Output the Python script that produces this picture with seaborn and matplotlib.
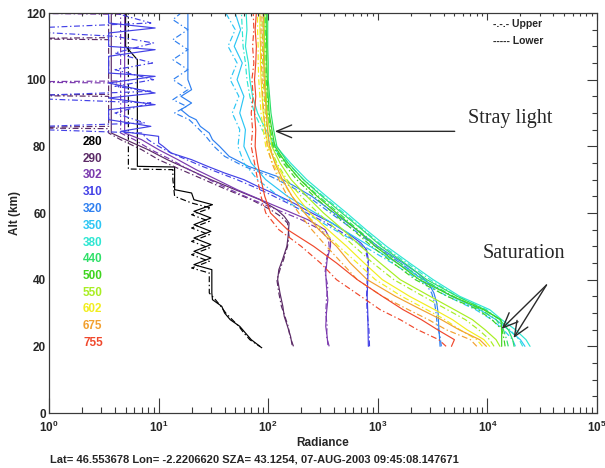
import numpy as np
import matplotlib
matplotlib.use("Agg")
import matplotlib.pyplot as plt
import seaborn as sns
from matplotlib.ticker import LogLocator, MultipleLocator, NullFormatter

sns.set_style("white")
plt.rcParams["font.family"] = ["Liberation Sans", "DejaVu Sans"]
plt.rcParams["mathtext.fontset"] = "custom"
plt.rcParams["mathtext.rm"] = "Liberation Sans:bold"
plt.rcParams["mathtext.bf"] = "Liberation Sans:bold"

# ---------------------------------------------------------------- data
WAVELENGTHS = ["280", "290", "302", "310", "320", "350", "380",
               "440", "500", "550", "602", "675", "755"]
COLORS = ["#000000", "#5b2a66", "#7b3aae", "#4341e6", "#2f80f0", "#2cc6f4",
          "#2ee6d2", "#2ee068", "#3ed41e", "#a8ee22", "#f2ee1e", "#f2a030",
          "#f0482c"]

# UV channels: altitude (km) and radiance, lower (solid) and upper (dash-dot)
ALT_280_LO = [20, 22, 24, 26, 28, 30, 32, 34, 36, 40, 43, 44.5, 46.5, 48.5, 50.5,
              52.5, 54.5, 56.5, 58.5, 60.5, 62.5, 64, 66, 67, 70, 73.8, 74, 80,
              90, 100, 106, 110, 120]
RAD_280_LO = [84, 70, 62, 55, 45, 40, 37.7, 31, 30.6, 30.6, 30.6, 21, 30, 21, 30,
              21, 30, 21, 30, 21, 31, 21, 20, 14, 14, 14, 6.4, 6.4,
              6.4, 6.4, 6.4, 5, 5]
ALT_280_HI = [19.5, 22, 24, 26, 28, 30, 32, 34, 36, 40, 42, 43.5, 45.5, 47.5, 49.5,
              51.5, 53.5, 55.5, 57.5, 59.5, 61.5, 63, 65, 70, 73, 73.2, 80, 90,
              100, 110, 120]
RAD_280_HI = [88, 68, 60, 54, 47, 41, 37, 33, 29, 29, 29, 20, 29, 20, 29,
              20, 29, 20, 29, 20, 30, 20, 14, 13.5, 13.5, 5.3, 5.3, 5.3,
              5.3, 5.3, 5.3]

ALT_290_LO = [20.5, 23, 26, 29, 32, 36, 40, 43, 46, 50, 53, 57, 59, 61, 64, 67,
              70, 73, 76, 79, 82, 84, 90, 100, 110, 120]
RAD_290_LO = [165, 160, 150, 140, 136, 128, 122, 125, 135, 148, 152, 155, 140,
              120, 84, 50, 30, 19, 12, 8, 5, 3.7, 3.7, 3.7, 3.7, 3.7]
ALT_290_HI = [20, 23, 26, 29, 32, 36, 40, 43, 46, 50, 53, 57, 59, 61, 64, 67, 70,
              73, 76, 79, 82, 84, 85.3, 85.6, 86, 95, 95.3, 95.6, 112, 112.3,
              112.6, 120]
RAD_290_HI = [170, 158, 152, 142, 132, 125, 120, 128, 138, 150, 155, 150, 130,
              105, 70, 42, 26, 16, 10, 7, 4.5, 3.5, 3.5, 0.3, 3.5, 3.5, 0.3, 3.5,
              3.5, 0.3, 3.5, 3.5]

ALT_302_LO = [20.5, 23, 26, 30, 34, 38, 42, 46, 50, 52, 55, 58, 61, 64, 67, 70,
              73, 76, 79, 82, 84, 90, 100, 110, 120]
RAD_302_LO = [350, 345, 335, 340, 350, 340, 335, 345, 370, 370, 330, 230, 140,
              85, 52, 34, 22, 15, 10, 7, 4.9, 4.9, 4.9, 4.9, 4.9]
ALT_302_HI = [20, 23, 26, 30, 34, 38, 42, 46, 50, 52, 55, 58, 61, 64, 67, 70, 73,
              76, 79, 82, 84, 99, 99.3, 99.6, 119.6, 120]
RAD_302_HI = [360, 340, 345, 335, 340, 350, 330, 340, 360, 355, 300, 200, 120,
              72, 45, 29, 19, 13, 8.5, 6, 4.5, 4.5, 0.3, 4.5, 4.5, 0.3]

ALT_310_LO = [20, 25, 30, 35, 40, 46, 49, 51, 54, 57, 60, 63, 66, 68, 70, 72, 74,
              76, 78, 80, 81, 83, 84.5, 86, 88, 91, 92.5, 94.5, 96, 99, 101, 102,
              107, 109, 110, 114, 115.5, 117, 120]
RAD_310_LO = [820, 815, 810, 800, 810, 820, 790, 700, 530, 380, 250, 170, 110,
              80, 60, 40, 28, 20, 13, 11, 10, 10, 4.5, 8.5, 3.5, 3.5, 9.3, 3.5,
              9.3, 3.5, 9.3, 3.5, 3.5, 9.3, 3.5, 3.5, 9.3, 3.5, 3.5]
ALT_310_HI = [20, 25, 30, 35, 40, 46, 49, 51, 54, 57, 60, 63, 66, 68, 70, 72, 74,
              76, 78, 80, 82, 84, 85.5, 87, 90, 93, 94.8, 96.5, 98, 100, 103, 105,
              108, 111, 113, 115, 117, 120]
RAD_310_HI = [840, 830, 800, 790, 800, 810, 770, 660, 480, 340, 225, 150, 98, 72,
              52, 36, 25, 18, 13, 10, 8, 7, 0.3, 7.5, 4, 8.5, 0.3, 8.5, 4, 9, 4,
              8.8, 4, 9, 4, 0.3, 8.5, 4]

ALT_320_LO = [20, 23, 26, 30, 33, 36, 39, 42, 45, 50, 55, 60, 65, 68, 71, 74, 77,
              80, 82, 84, 86, 88, 89, 91, 93, 95, 97, 100, 105, 110, 115, 120]
RAD_320_LO = [3700, 3650, 3600, 3550, 3450, 3250, 2900, 2300, 1700, 1000, 640,
              400, 250, 175, 120, 66, 44, 36, 31, 29, 24, 22, 19, 16, 20, 16, 20,
              18.5, 18.5, 18.5, 18.5, 18.5]
ALT_320_HI = [20, 23, 26, 30, 33, 36, 39, 42, 45, 50, 55, 60, 65, 68, 71, 74, 77,
              80, 83, 86, 88, 90, 92, 94, 97, 100, 103, 106, 109, 112, 115, 118,
              120]
RAD_320_HI = [3800, 3700, 3500, 3400, 3300, 3100, 2700, 2150, 1600, 950, 600,
              370, 230, 160, 105, 60, 40, 32, 27, 22, 19, 14, 18, 13.5, 18.5,
              13.5, 18.5, 13.5, 18.5, 13.5, 18.5, 13.5, 16]

# Visible / near-UV channels share one altitude grid
ALT_GRID = [20, 22, 25, 28, 31, 35, 40, 45, 50, 55, 60, 65, 70, 75, 80, 85, 90,
            95, 100, 105, 110, 115, 120]
RAD_350_LO = [22000, 20000, 15500, 12000, 8500, 4700, 2600, 1500, 850, 480, 270,
              150, 95, 70, 60, 62, 55, 60, 52, 58, 49, 56, 50]
RAD_350_HI = [18000, 17000, 14000, 11000, 7800, 4300, 2350, 1350, 750, 400, 220,
              125, 80, 60, 53, 55, 47, 54, 45, 52, 43, 50, 41]
RAD_380_LO = [24500, 22500, 18000, 13500, 10500, 5600, 3200, 1950, 1200, 780,
              520, 340, 225, 160, 118, 95, 80, 72, 68, 66, 62, 64, 63]
RAD_380_HI = [21000, 19500, 16000, 12800, 9800, 5300, 3000, 1850, 1120, 740, 490,
              320, 210, 150, 108, 88, 75, 68, 64, 62, 59, 58, 57]
RAD_440_LO = [17500, 17000, 15500, 13000, 9500, 5300, 2800, 1750, 1080, 720, 470,
              310, 210, 152, 120, 112, 106, 103, 100, 100, 99, 99, 99]
RAD_440_HI = [15500, 15000, 14000, 12000, 8800, 4900, 2600, 1600, 1000, 660, 440,
              290, 196, 142, 112, 105, 100, 98, 96, 96, 95, 95, 95]
RAD_500_LO = [13500, 13500, 13500, 13300, 9200, 4800, 2400, 1500, 950, 640, 420,
              280, 195, 145, 115, 108, 102, 100, 98, 97, 97, 96, 96]
RAD_500_HI = [14500, 14200, 13600, 11000, 8200, 4300, 2200, 1380, 880, 590, 390,
              262, 182, 137, 110, 104, 98, 96, 94, 93, 93, 92, 92]
RAD_550_LO = [13000, 12000, 9500, 7300, 5000, 3000, 1600, 1050, 700, 480, 320,
              225, 162, 128, 108, 103, 98, 96, 94, 93, 93, 92, 92]
RAD_550_HI = [11500, 10500, 8300, 6300, 4300, 2600, 1400, 900, 610, 420, 285,
              200, 148, 120, 103, 98, 94, 92, 90, 89, 89, 88, 88]
RAD_602_LO = [10500, 9300, 6500, 4800, 3300, 1950, 1100, 750, 520, 350, 240, 182,
              143, 117, 100, 94, 90, 88, 86, 85, 85, 84, 84]
RAD_602_HI = [9000, 8000, 5600, 4100, 2800, 1650, 950, 650, 440, 310, 215, 165,
              132, 110, 95, 90, 86, 84, 82, 81, 81, 80, 80]
RAD_675_LO = [9800, 8500, 5500, 3800, 2500, 1450, 800, 560, 420, 290, 215, 165,
              135, 115, 103, 99, 96, 94, 92, 91, 90, 90, 90]
RAD_675_HI = [8000, 7000, 4200, 2900, 1900, 1100, 650, 470, 340, 250, 190, 150,
              125, 108, 98, 94, 91, 89, 88, 87, 86, 86, 86]
RAD_755_LO = [4700, 5000, 3500, 2500, 1700, 1100, 650, 420, 260, 150, 105, 93,
              86, 80, 76, 77, 75, 77, 75, 77, 78, 76, 78]
RAD_755_HI = [4200, 3600, 2300, 1600, 1050, 700, 420, 300, 200, 125, 95, 86, 80,
              75, 70, 72, 70, 73, 71, 74, 72, 74, 73]

XTICK_EXPONENTS = [0, 1, 2, 3, 4, 5]
YTICKS = [0, 20, 40, 60, 80, 100, 120]
INFO_LINE = "Lat= 46.553678 Lon= -2.2206620 SZA= 43.1254, 07-AUG-2003 09:45:08.147671"

PROFILES = [
    (ALT_280_LO, RAD_280_LO, ALT_280_HI, RAD_280_HI),
    (ALT_290_LO, RAD_290_LO, ALT_290_HI, RAD_290_HI),
    (ALT_302_LO, RAD_302_LO, ALT_302_HI, RAD_302_HI),
    (ALT_310_LO, RAD_310_LO, ALT_310_HI, RAD_310_HI),
    (ALT_320_LO, RAD_320_LO, ALT_320_HI, RAD_320_HI),
    (ALT_GRID, RAD_350_LO, ALT_GRID, RAD_350_HI),
    (ALT_GRID, RAD_380_LO, ALT_GRID, RAD_380_HI),
    (ALT_GRID, RAD_440_LO, ALT_GRID, RAD_440_HI),
    (ALT_GRID, RAD_500_LO, ALT_GRID, RAD_500_HI),
    (ALT_GRID, RAD_550_LO, ALT_GRID, RAD_550_HI),
    (ALT_GRID, RAD_602_LO, ALT_GRID, RAD_602_HI),
    (ALT_GRID, RAD_675_LO, ALT_GRID, RAD_675_HI),
    (ALT_GRID, RAD_755_LO, ALT_GRID, RAD_755_HI),
]

# ---------------------------------------------------------------- figure
W, H = 605, 468
LEFT, RIGHT, TOP, BOTTOM = 49, 597, 13, 413
fig = plt.figure(figsize=(W / 100, H / 100), dpi=100)
ax = fig.add_axes([LEFT / W, 1 - BOTTOM / H, (RIGHT - LEFT) / W, (BOTTOM - TOP) / H])
ax.set_xscale("log")
ax.set_xlim(1, 1e5)
ax.set_ylim(0, 120)

DASHDOT = (0, (5, 2.2, 1.2, 2.2))
for color, (alt_lo, rad_lo, alt_hi, rad_hi) in zip(COLORS, PROFILES):
    sns.lineplot(x=rad_hi, y=alt_hi, sort=False, estimator=None, color=color,
                 lw=0.85, linestyle=DASHDOT, ax=ax, legend=False)
    sns.lineplot(x=rad_lo, y=alt_lo, sort=False, estimator=None, color=color,
                 lw=0.85, linestyle="-", ax=ax, legend=False)

# axes, ticks
spine_col = "#3a3a3a"
for s in ax.spines.values():
    s.set_color(spine_col)
    s.set_linewidth(0.8)
ax.set_xticks([10.0 ** e for e in XTICK_EXPONENTS])
ax.set_xticklabels([r"$\mathbf{10^{%d}}$" % e for e in XTICK_EXPONENTS])
ax.xaxis.set_minor_locator(LogLocator(base=10, subs=np.arange(2, 10) * 1.0, numticks=100))
ax.xaxis.set_minor_formatter(NullFormatter())
ax.set_yticks(YTICKS)
ax.set_yticklabels([str(v) for v in YTICKS], fontweight="bold")
ax.yaxis.set_minor_locator(MultipleLocator(5))
ax.tick_params(axis="x", which="major", direction="in", length=11, width=0.8,
               color=spine_col, labelsize=8.5, pad=5, top=False)
ax.tick_params(axis="x", which="minor", direction="in", length=4.5, width=0.8,
               color=spine_col, top=False)
ax.tick_params(axis="y", which="major", direction="in", length=7, width=0.8,
               color=spine_col, labelsize=8.5, pad=2, right=True)
ax.tick_params(axis="y", which="minor", direction="in", length=3.6, width=0.8,
               color=spine_col, right=True)

top = ax.twiny()
top.set_xscale("log")
top.set_xlim(ax.get_xlim())
top.set_xticks([10.0 ** e for e in XTICK_EXPONENTS])
top.xaxis.set_minor_locator(LogLocator(base=10, subs=np.arange(2, 10) * 1.0, numticks=100))
top.xaxis.set_minor_formatter(NullFormatter())
top.tick_params(axis="x", which="major", direction="in", length=5, width=0.8,
                color=spine_col, labeltop=False)
top.tick_params(axis="x", which="minor", direction="in", length=2.5, width=0.8,
                color=spine_col)
for s in top.spines.values():
    s.set_color(spine_col)
    s.set_linewidth(0.8)

ax.set_xlabel("Radiance", fontsize=8.5, fontweight="bold", labelpad=1)
ax.set_ylabel("Alt (km)", fontsize=8.5, fontweight="bold", labelpad=4)

def px(x, y):
    return x / W, 1 - y / H

# wavelength key
for i, (name, color) in enumerate(zip(WAVELENGTHS, COLORS)):
    fig.text(*px(83, 142 + i * 16.75), name, color=color, fontsize=8.5,
             fontweight="bold", va="center", ha="left")

# line style key
fig.text(*px(493, 24), "-.-.- Upper", fontsize=7.5, fontweight="bold", va="center")
fig.text(*px(493, 41), "----- Lower", fontsize=7.5, fontweight="bold", va="center")

# annotations
serif = ["Liberation Serif", "DejaVu Serif"]
fig.text(*px(468, 118), "Stray light", family=serif, fontsize=14.5, va="center")
fig.text(*px(483, 254), "Saturation", family=serif, fontsize=14.5, va="center")
arrow = dict(arrowstyle="->,head_length=0.9,head_width=0.38", color="#2a2a2a",
             lw=1.0, shrinkA=0, shrinkB=0, mutation_scale=12)
ax.annotate("", xy=(115, 84.5), xytext=(5030, 84.5), arrowprops=arrow)
ax.annotate("", xy=(13470, 25.2), xytext=(34600, 38.4), arrowprops=arrow)
ax.annotate("", xy=(17330, 22.5), xytext=(34600, 38.4), arrowprops=arrow)

fig.text(*px(50, 460), INFO_LINE, fontsize=8, fontweight="bold", va="center")

fig.savefig("out.png", dpi=100)
